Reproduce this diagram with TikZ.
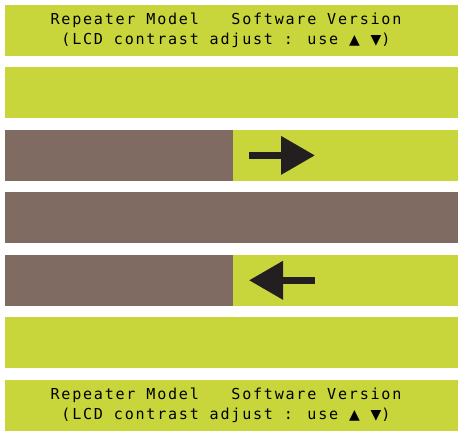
\documentclass[tikz,border=0pt]{standalone}
\usepackage{fontspec}
\newfontfamily\lcdfont[LetterSpace=11.6]{DejaVu Sans Mono}
\newfontfamily\lcdsym{DejaVu Sans}
\usetikzlibrary{positioning,arrows.meta}
\definecolor{lcdgreen}{RGB}{200,214,60}
\definecolor{lcdbrown}{RGB}{128,107,99}
\definecolor{arrowblack}{RGB}{35,31,32}

\newcommand{\lcdup}{{\lcdsym\fontsize{14}{20}\selectfont ▲}}
\newcommand{\lcddown}{{\lcdsym\fontsize{14}{20}\selectfont ▼}}

\tikzset{
  bar/.style={fill=lcdgreen, minimum width=453pt, minimum height=51pt, inner sep=0pt, outer sep=0pt},
  darkbar/.style={bar, fill=lcdbrown},
  lefthalf/.style={darkbar, minimum width=228pt},
  righthalf/.style={bar, minimum width=225pt},
  lcdtext/.style={font=\lcdfont\fontsize{15.1}{20}\selectfont, align=center, text=black, inner sep=0pt},
  flow/.style={draw=arrowblack, line width=7pt, -{Triangle[length=34pt, width=37pt]}}
}

\begin{document}
\begin{tikzpicture}[x=1pt, y=-1pt, node distance=11.45pt]
  \useasboundingbox (0,0) rectangle (458,431);
  % screens from top to bottom
  \node[bar, label={[lcdtext, xshift=-5.5pt]center:Repeater Model\ \ \ Software Version\\(LCD contrast adjust : use \lcdup\ \lcddown)}] (top) at (231.5,30.5) {};
  \node[bar] (blank1) [below=of top] {};
  \node[lefthalf] (fwdL) [below=of blank1.south west, anchor=north west] {};
  \node[righthalf] (fwdR) [right=0pt of fwdL] {};
  \node[darkbar] (busy) [below=of fwdL.south west, anchor=north west] {};
  \node[lefthalf] (bwdL) [below=of busy.south west, anchor=north west] {};
  \node[righthalf] (bwdR) [right=0pt of bwdL] {};
  \node[bar] (blank2) [below=of bwdL.south west, anchor=north west] {};
  \node[bar, label={[lcdtext, xshift=-5.5pt]center:Repeater Model\ \ \ Software Version\\(LCD contrast adjust : use \lcdup\ \lcddown)}] (bottom) [below=of blank2] {};

  % arrows
  \coordinate (fwdtail) at ([xshift=16pt]fwdR.west);
  \coordinate (fwdhead) at ([xshift=82pt]fwdR.west);
  \coordinate (bwdtail) at ([xshift=82pt]bwdR.west);
  \coordinate (bwdhead) at ([xshift=16pt]bwdR.west);
  \draw[flow] (fwdtail) -- (fwdhead);
  \draw[flow] (bwdtail) -- (bwdhead);
\end{tikzpicture}
\end{document}
